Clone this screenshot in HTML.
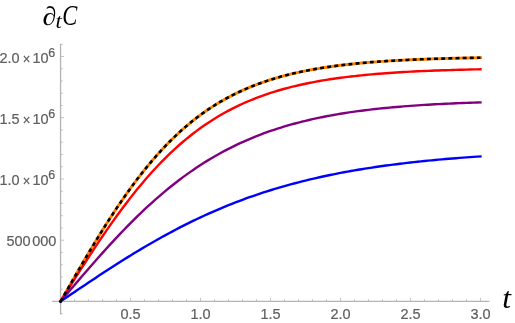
<!DOCTYPE html>
<html><head><meta charset="utf-8"><title>plot</title>
<style>
html,body{margin:0;padding:0;background:#fff;}
svg{display:block;will-change:transform}
.tl{font-family:"Liberation Sans","DejaVu Sans",sans-serif;font-size:14.5px;fill:#5e5e5e;stroke:#5e5e5e;stroke-width:0.2px;}
.m{font-family:"Liberation Serif","DejaVu Serif",serif;font-style:italic;fill:#000;}
</style></head><body>
<svg width="515" height="323" viewBox="0 0 515 323">
<rect width="515" height="323" fill="#fff"/>

<g stroke="#b4b4b4" stroke-width="0.8" fill="none" shape-rendering="auto">
<line x1="52.0" y1="301.45" x2="489.4" y2="301.45" stroke-width="1.3"/>
<line x1="60.55" y1="43.9" x2="60.55" y2="314.6" stroke-width="1.3"/>
<line x1="74.55" y1="301.45" x2="74.55" y2="299.15"/>
<line x1="88.54" y1="301.45" x2="88.54" y2="299.15"/>
<line x1="102.54" y1="301.45" x2="102.54" y2="299.15"/>
<line x1="116.54" y1="301.45" x2="116.54" y2="299.15"/>
<line x1="130.53" y1="301.45" x2="130.53" y2="297.95"/>
<line x1="144.53" y1="301.45" x2="144.53" y2="299.15"/>
<line x1="158.53" y1="301.45" x2="158.53" y2="299.15"/>
<line x1="172.53" y1="301.45" x2="172.53" y2="299.15"/>
<line x1="186.52" y1="301.45" x2="186.52" y2="299.15"/>
<line x1="200.52" y1="301.45" x2="200.52" y2="297.95"/>
<line x1="214.52" y1="301.45" x2="214.52" y2="299.15"/>
<line x1="228.51" y1="301.45" x2="228.51" y2="299.15"/>
<line x1="242.51" y1="301.45" x2="242.51" y2="299.15"/>
<line x1="256.51" y1="301.45" x2="256.51" y2="299.15"/>
<line x1="270.50" y1="301.45" x2="270.50" y2="297.95"/>
<line x1="284.50" y1="301.45" x2="284.50" y2="299.15"/>
<line x1="298.50" y1="301.45" x2="298.50" y2="299.15"/>
<line x1="312.50" y1="301.45" x2="312.50" y2="299.15"/>
<line x1="326.49" y1="301.45" x2="326.49" y2="299.15"/>
<line x1="340.49" y1="301.45" x2="340.49" y2="297.95"/>
<line x1="354.49" y1="301.45" x2="354.49" y2="299.15"/>
<line x1="368.48" y1="301.45" x2="368.48" y2="299.15"/>
<line x1="382.48" y1="301.45" x2="382.48" y2="299.15"/>
<line x1="396.48" y1="301.45" x2="396.48" y2="299.15"/>
<line x1="410.48" y1="301.45" x2="410.48" y2="297.95"/>
<line x1="424.47" y1="301.45" x2="424.47" y2="299.15"/>
<line x1="438.47" y1="301.45" x2="438.47" y2="299.15"/>
<line x1="452.47" y1="301.45" x2="452.47" y2="299.15"/>
<line x1="466.46" y1="301.45" x2="466.46" y2="299.15"/>
<line x1="480.46" y1="301.45" x2="480.46" y2="297.95"/>
<line x1="60.55" y1="313.70" x2="62.85" y2="313.70"/>
<line x1="60.55" y1="289.20" x2="62.85" y2="289.20"/>
<line x1="60.55" y1="276.95" x2="62.85" y2="276.95"/>
<line x1="60.55" y1="264.71" x2="62.85" y2="264.71"/>
<line x1="60.55" y1="252.46" x2="62.85" y2="252.46"/>
<line x1="60.55" y1="240.21" x2="64.05" y2="240.21"/>
<line x1="60.55" y1="227.96" x2="62.85" y2="227.96"/>
<line x1="60.55" y1="215.71" x2="62.85" y2="215.71"/>
<line x1="60.55" y1="203.47" x2="62.85" y2="203.47"/>
<line x1="60.55" y1="191.22" x2="62.85" y2="191.22"/>
<line x1="60.55" y1="178.97" x2="64.05" y2="178.97"/>
<line x1="60.55" y1="166.72" x2="62.85" y2="166.72"/>
<line x1="60.55" y1="154.47" x2="62.85" y2="154.47"/>
<line x1="60.55" y1="142.23" x2="62.85" y2="142.23"/>
<line x1="60.55" y1="129.98" x2="62.85" y2="129.98"/>
<line x1="60.55" y1="117.73" x2="64.05" y2="117.73"/>
<line x1="60.55" y1="105.48" x2="62.85" y2="105.48"/>
<line x1="60.55" y1="93.23" x2="62.85" y2="93.23"/>
<line x1="60.55" y1="80.99" x2="62.85" y2="80.99"/>
<line x1="60.55" y1="68.74" x2="62.85" y2="68.74"/>
<line x1="60.55" y1="56.49" x2="64.05" y2="56.49"/>
<line x1="60.55" y1="44.24" x2="62.85" y2="44.24"/>
</g>
<path d="M60.55,301.45 L64.05,295.33 L67.55,289.21 L71.05,283.11 L74.55,277.04 L78.05,270.99 L81.55,264.98 L85.04,259.01 L88.54,253.10 L92.04,247.25 L95.54,241.45 L99.04,235.73 L102.54,230.09 L106.04,224.53 L109.54,219.05 L113.04,213.67 L116.54,208.38 L120.04,203.19 L123.54,198.10 L127.04,193.12 L130.53,188.25 L134.03,183.49 L137.53,178.84 L141.03,174.31 L144.53,169.89 L148.03,165.60 L151.53,161.41 L155.03,157.35 L158.53,153.40 L162.03,149.58 L165.53,145.86 L169.03,142.27 L172.53,138.79 L176.03,135.42 L179.52,132.17 L183.02,129.02 L186.52,125.99 L190.02,123.06 L193.52,120.23 L197.02,117.51 L200.52,114.89 L204.02,112.37 L207.52,109.94 L211.02,107.60 L214.52,105.36 L218.02,103.20 L221.52,101.13 L225.01,99.15 L228.51,97.24 L232.01,95.41 L235.51,93.65 L239.01,91.97 L242.51,90.36 L246.01,88.82 L249.51,87.34 L253.01,85.93 L256.51,84.57 L260.01,83.28 L263.51,82.04 L267.01,80.86 L270.50,79.72 L274.00,78.64 L277.50,77.61 L281.00,76.62 L284.50,75.68 L288.00,74.78 L291.50,73.92 L295.00,73.10 L298.50,72.31 L302.00,71.56 L305.50,70.85 L309.00,70.17 L312.50,69.52 L316.00,68.90 L319.49,68.31 L322.99,67.75 L326.49,67.21 L329.99,66.70 L333.49,66.21 L336.99,65.75 L340.49,65.30 L343.99,64.88 L347.49,64.48 L350.99,64.09 L354.49,63.73 L357.99,63.38 L361.49,63.05 L364.98,62.73 L368.48,62.43 L371.98,62.15 L375.48,61.87 L378.98,61.61 L382.48,61.37 L385.98,61.13 L389.48,60.91 L392.98,60.69 L396.48,60.49 L399.98,60.30 L403.48,60.11 L406.98,59.94 L410.48,59.77 L413.97,59.61 L417.47,59.46 L420.97,59.31 L424.47,59.18 L427.97,59.05 L431.47,58.92 L434.97,58.81 L438.47,58.69 L441.97,58.59 L445.47,58.48 L448.97,58.39 L452.47,58.29 L455.97,58.21 L459.46,58.12 L462.96,58.04 L466.46,57.97 L469.96,57.90 L473.46,57.83 L476.96,57.76 L480.46,57.70" fill="none" stroke="#ff8000" stroke-width="2.9" stroke-linejoin="round" stroke-linecap="square"/>
<path d="M60.55,301.45 L64.05,295.87 L67.55,290.30 L71.05,284.74 L74.55,279.20 L78.05,273.68 L81.55,268.20 L85.04,262.75 L88.54,257.35 L92.04,251.99 L95.54,246.69 L99.04,241.45 L102.54,236.27 L106.04,231.16 L109.54,226.12 L113.04,221.16 L116.54,216.28 L120.04,211.49 L123.54,206.78 L127.04,202.16 L130.53,197.63 L134.03,193.20 L137.53,188.87 L141.03,184.64 L144.53,180.50 L148.03,176.47 L151.53,172.53 L155.03,168.70 L158.53,164.98 L162.03,161.35 L165.53,157.83 L169.03,154.41 L172.53,151.09 L176.03,147.87 L179.52,144.75 L183.02,141.73 L186.52,138.80 L190.02,135.97 L193.52,133.24 L197.02,130.59 L200.52,128.04 L204.02,125.58 L207.52,123.20 L211.02,120.91 L214.52,118.70 L218.02,116.58 L221.52,114.53 L225.01,112.56 L228.51,110.66 L232.01,108.83 L235.51,107.08 L239.01,105.39 L242.51,103.77 L246.01,102.22 L249.51,100.73 L253.01,99.29 L256.51,97.92 L260.01,96.60 L263.51,95.33 L267.01,94.12 L270.50,92.96 L274.00,91.84 L277.50,90.77 L281.00,89.75 L284.50,88.77 L288.00,87.83 L291.50,86.94 L295.00,86.08 L298.50,85.25 L302.00,84.47 L305.50,83.72 L309.00,83.00 L312.50,82.31 L316.00,81.65 L319.49,81.02 L322.99,80.42 L326.49,79.84 L329.99,79.29 L333.49,78.77 L336.99,78.27 L340.49,77.79 L343.99,77.33 L347.49,76.89 L350.99,76.47 L354.49,76.07 L357.99,75.69 L361.49,75.33 L364.98,74.98 L368.48,74.65 L371.98,74.33 L375.48,74.03 L378.98,73.74 L382.48,73.47 L385.98,73.20 L389.48,72.95 L392.98,72.71 L396.48,72.48 L399.98,72.27 L403.48,72.06 L406.98,71.86 L410.48,71.67 L413.97,71.49 L417.47,71.32 L420.97,71.15 L424.47,70.99 L427.97,70.84 L431.47,70.70 L434.97,70.56 L438.47,70.43 L441.97,70.31 L445.47,70.19 L448.97,70.08 L452.47,69.97 L455.97,69.87 L459.46,69.77 L462.96,69.68 L466.46,69.59 L469.96,69.50 L473.46,69.42 L476.96,69.34 L480.46,69.27" fill="none" stroke="#ff0000" stroke-width="2.4" stroke-linejoin="round" stroke-linecap="square"/>
<path d="M60.55,301.45 L64.05,297.32 L67.55,293.19 L71.05,289.07 L74.55,284.96 L78.05,280.86 L81.55,276.78 L85.04,272.72 L88.54,268.68 L92.04,264.67 L95.54,260.69 L99.04,256.74 L102.54,252.83 L106.04,248.95 L109.54,245.12 L113.04,241.33 L116.54,237.58 L120.04,233.88 L123.54,230.23 L127.04,226.63 L130.53,223.08 L134.03,219.59 L137.53,216.16 L141.03,212.79 L144.53,209.47 L148.03,206.22 L151.53,203.02 L155.03,199.89 L158.53,196.82 L162.03,193.82 L165.53,190.88 L169.03,188.00 L172.53,185.19 L176.03,182.45 L179.52,179.77 L183.02,177.15 L186.52,174.60 L190.02,172.11 L193.52,169.69 L197.02,167.33 L200.52,165.03 L204.02,162.79 L207.52,160.62 L211.02,158.51 L214.52,156.46 L218.02,154.46 L221.52,152.53 L225.01,150.65 L228.51,148.83 L232.01,147.06 L235.51,145.35 L239.01,143.69 L242.51,142.09 L246.01,140.53 L249.51,139.03 L253.01,137.57 L256.51,136.16 L260.01,134.80 L263.51,133.48 L267.01,132.21 L270.50,130.98 L274.00,129.79 L277.50,128.64 L281.00,127.54 L284.50,126.47 L288.00,125.44 L291.50,124.44 L295.00,123.49 L298.50,122.56 L302.00,121.67 L305.50,120.81 L309.00,119.98 L312.50,119.19 L316.00,118.42 L319.49,117.68 L322.99,116.97 L326.49,116.28 L329.99,115.62 L333.49,114.99 L336.99,114.38 L340.49,113.79 L343.99,113.22 L347.49,112.68 L350.99,112.16 L354.49,111.66 L357.99,111.17 L361.49,110.71 L364.98,110.27 L368.48,109.84 L371.98,109.43 L375.48,109.03 L378.98,108.65 L382.48,108.29 L385.98,107.94 L389.48,107.60 L392.98,107.28 L396.48,106.97 L399.98,106.68 L403.48,106.39 L406.98,106.12 L410.48,105.86 L413.97,105.61 L417.47,105.37 L420.97,105.14 L424.47,104.92 L427.97,104.71 L431.47,104.50 L434.97,104.31 L438.47,104.12 L441.97,103.94 L445.47,103.77 L448.97,103.61 L452.47,103.45 L455.97,103.30 L459.46,103.16 L462.96,103.02 L466.46,102.89 L469.96,102.77 L473.46,102.65 L476.96,102.53 L480.46,102.42" fill="none" stroke="#800080" stroke-width="2.4" stroke-linejoin="round" stroke-linecap="square"/>
<path d="M60.55,301.45 L64.05,299.08 L67.55,296.70 L71.05,294.33 L74.55,291.96 L78.05,289.60 L81.55,287.24 L85.04,284.89 L88.54,282.55 L92.04,280.22 L95.54,277.90 L99.04,275.59 L102.54,273.29 L106.04,271.01 L109.54,268.74 L113.04,266.48 L116.54,264.25 L120.04,262.02 L123.54,259.82 L127.04,257.64 L130.53,255.48 L134.03,253.34 L137.53,251.21 L141.03,249.12 L144.53,247.04 L148.03,244.99 L151.53,242.96 L155.03,240.96 L158.53,238.98 L162.03,237.03 L165.53,235.10 L169.03,233.20 L172.53,231.33 L176.03,229.48 L179.52,227.67 L183.02,225.88 L186.52,224.11 L190.02,222.38 L193.52,220.67 L197.02,219.00 L200.52,217.35 L204.02,215.73 L207.52,214.14 L211.02,212.57 L214.52,211.04 L218.02,209.53 L221.52,208.05 L225.01,206.61 L228.51,205.18 L232.01,203.79 L235.51,202.43 L239.01,201.09 L242.51,199.78 L246.01,198.49 L249.51,197.24 L253.01,196.01 L256.51,194.80 L260.01,193.63 L263.51,192.48 L267.01,191.35 L270.50,190.25 L274.00,189.17 L277.50,188.12 L281.00,187.09 L284.50,186.09 L288.00,185.11 L291.50,184.15 L295.00,183.22 L298.50,182.30 L302.00,181.41 L305.50,180.54 L309.00,179.69 L312.50,178.86 L316.00,178.06 L319.49,177.27 L322.99,176.50 L326.49,175.75 L329.99,175.02 L333.49,174.31 L336.99,173.61 L340.49,172.93 L343.99,172.27 L347.49,171.63 L350.99,171.00 L354.49,170.39 L357.99,169.80 L361.49,169.22 L364.98,168.65 L368.48,168.10 L371.98,167.57 L375.48,167.05 L378.98,166.54 L382.48,166.04 L385.98,165.56 L389.48,165.09 L392.98,164.63 L396.48,164.19 L399.98,163.76 L403.48,163.33 L406.98,162.92 L410.48,162.52 L413.97,162.13 L417.47,161.75 L420.97,161.39 L424.47,161.03 L427.97,160.68 L431.47,160.34 L434.97,160.01 L438.47,159.68 L441.97,159.37 L445.47,159.07 L448.97,158.77 L452.47,158.48 L455.97,158.20 L459.46,157.92 L462.96,157.66 L466.46,157.40 L469.96,157.14 L473.46,156.90 L476.96,156.66 L480.46,156.43" fill="none" stroke="#0000ff" stroke-width="2.4" stroke-linejoin="round" stroke-linecap="square"/>
<path d="M60.55,301.45 L64.05,295.33 L67.55,289.21 L71.05,283.11 L74.55,277.04 L78.05,270.99 L81.55,264.98 L85.04,259.01 L88.54,253.10 L92.04,247.25 L95.54,241.45 L99.04,235.73 L102.54,230.09 L106.04,224.53 L109.54,219.05 L113.04,213.67 L116.54,208.38 L120.04,203.19 L123.54,198.10 L127.04,193.12 L130.53,188.25 L134.03,183.49 L137.53,178.84 L141.03,174.31 L144.53,169.89 L148.03,165.60 L151.53,161.41 L155.03,157.35 L158.53,153.40 L162.03,149.58 L165.53,145.86 L169.03,142.27 L172.53,138.79 L176.03,135.42 L179.52,132.17 L183.02,129.02 L186.52,125.99 L190.02,123.06 L193.52,120.23 L197.02,117.51 L200.52,114.89 L204.02,112.37 L207.52,109.94 L211.02,107.60 L214.52,105.36 L218.02,103.20 L221.52,101.13 L225.01,99.15 L228.51,97.24 L232.01,95.41 L235.51,93.65 L239.01,91.97 L242.51,90.36 L246.01,88.82 L249.51,87.34 L253.01,85.93 L256.51,84.57 L260.01,83.28 L263.51,82.04 L267.01,80.86 L270.50,79.72 L274.00,78.64 L277.50,77.61 L281.00,76.62 L284.50,75.68 L288.00,74.78 L291.50,73.92 L295.00,73.10 L298.50,72.31 L302.00,71.56 L305.50,70.85 L309.00,70.17 L312.50,69.52 L316.00,68.90 L319.49,68.31 L322.99,67.75 L326.49,67.21 L329.99,66.70 L333.49,66.21 L336.99,65.75 L340.49,65.30 L343.99,64.88 L347.49,64.48 L350.99,64.09 L354.49,63.73 L357.99,63.38 L361.49,63.05 L364.98,62.73 L368.48,62.43 L371.98,62.15 L375.48,61.87 L378.98,61.61 L382.48,61.37 L385.98,61.13 L389.48,60.91 L392.98,60.69 L396.48,60.49 L399.98,60.30 L403.48,60.11 L406.98,59.94 L410.48,59.77 L413.97,59.61 L417.47,59.46 L420.97,59.31 L424.47,59.18 L427.97,59.05 L431.47,58.92 L434.97,58.81 L438.47,58.69 L441.97,58.59 L445.47,58.48 L448.97,58.39 L452.47,58.29 L455.97,58.21 L459.46,58.12 L462.96,58.04 L466.46,57.97 L469.96,57.90 L473.46,57.83 L476.96,57.76 L480.46,57.70" fill="none" stroke="#000" stroke-width="2.6" stroke-dasharray="3.9 3.25"/>
<path d="M59.95,302.49 L60.60,301.36" stroke="#000" stroke-width="2.6" fill="none"/>
<text class="tl" transform="translate(130.53,318.60) scale(1,1.055)" text-anchor="middle">0.5</text>
<text class="tl" transform="translate(200.52,318.60) scale(1,1.055)" text-anchor="middle">1.0</text>
<text class="tl" transform="translate(270.50,318.60) scale(1,1.055)" text-anchor="middle">1.5</text>
<text class="tl" transform="translate(340.49,318.60) scale(1,1.055)" text-anchor="middle">2.0</text>
<text class="tl" transform="translate(410.48,318.60) scale(1,1.055)" text-anchor="middle">2.5</text>
<text class="tl" transform="translate(480.46,318.60) scale(1,1.055)" text-anchor="middle">3.0</text>
<text class="tl" transform="translate(30.60,245.51) scale(1,1.055)" text-anchor="end">500</text>
<text class="tl" transform="translate(56.40,245.51) scale(1,1.055)" text-anchor="end">000</text>
<text class="tl" transform="translate(19.60,185.02) scale(1,1.055)" text-anchor="end">1.0</text>
<text class="tl" transform="translate(22.80,186.42) scale(1,1.055)" text-anchor="start" style="font-size:13px">×</text>
<text class="tl" transform="translate(48.57,185.02) scale(1,1.055)" text-anchor="end">10</text>
<text class="tl" transform="translate(55.15,179.42) scale(1,1.055)" text-anchor="end" style="font-size:12.5px">6</text>
<text class="tl" transform="translate(19.60,123.78) scale(1,1.055)" text-anchor="end">1.5</text>
<text class="tl" transform="translate(22.80,125.18) scale(1,1.055)" text-anchor="start" style="font-size:13px">×</text>
<text class="tl" transform="translate(48.57,123.78) scale(1,1.055)" text-anchor="end">10</text>
<text class="tl" transform="translate(55.15,118.18) scale(1,1.055)" text-anchor="end" style="font-size:12.5px">6</text>
<text class="tl" transform="translate(19.60,62.54) scale(1,1.055)" text-anchor="end">2.0</text>
<text class="tl" transform="translate(22.80,63.94) scale(1,1.055)" text-anchor="start" style="font-size:13px">×</text>
<text class="tl" transform="translate(48.57,62.54) scale(1,1.055)" text-anchor="end">10</text>
<text class="tl" transform="translate(55.15,56.94) scale(1,1.055)" text-anchor="end" style="font-size:12.5px">6</text>
<text class="m" transform="translate(502.3,307.7) scale(1.08,1)" font-size="29.15">t</text>
<text class="m" transform="translate(42.47,24.65) scale(1.064,1)" font-size="26.4">∂</text>
<text class="m" transform="translate(55.4,27.8) scale(1.146,1)" font-size="19.9">t</text>
<text class="m" transform="translate(62.34,24.73) scale(0.789,1)" font-size="28.6">C</text>
</svg></body></html>
